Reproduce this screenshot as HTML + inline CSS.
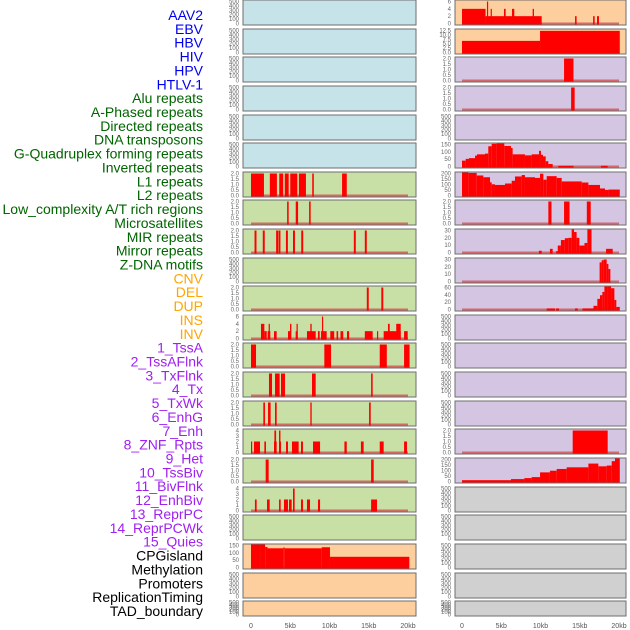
<!DOCTYPE html>
<html><head><meta charset="utf-8"><style>
body{margin:0;background:#fff;width:630px;height:630px;overflow:hidden}
svg{display:block}
</style></head><body>
<svg id="chart" width="630" height="630" xmlns="http://www.w3.org/2000/svg" font-family="Liberation Sans, sans-serif"></svg>
<script>
const trackLabels=["AAV2","EBV","HBV","HIV","HPV","HTLV-1","Alu repeats","A-Phased repeats","Directed repeats","DNA transposons","G-Quadruplex forming repeats","Inverted repeats","L1 repeats","L2 repeats","Low_complexity A/T rich regions","Microsatellites","MIR repeats","Mirror repeats","Z-DNA motifs","CNV","DEL","DUP","INS","INV","1_TssA","2_TssAFlnk","3_TxFlnk","4_Tx","5_TxWk","6_EnhG","7_Enh","8_ZNF_Rpts","9_Het","10_TssBiv","11_BivFlnk","12_EnhBiv","13_ReprPC","14_ReprPCWk","15_Quies","CPGisland","Methylation","Promoters","ReplicationTiming","TAD_boundary"];
const labelColors=["#0000ee","#0000ee","#0000ee","#0000ee","#0000ee","#0000ee","#006400","#006400","#006400","#006400","#006400","#006400","#006400","#006400","#006400","#006400","#006400","#006400","#006400","#ffa500","#ffa500","#ffa500","#ffa500","#ffa500","#a020f0","#a020f0","#a020f0","#a020f0","#a020f0","#a020f0","#a020f0","#a020f0","#a020f0","#a020f0","#a020f0","#a020f0","#a020f0","#a020f0","#a020f0","#000","#000","#000","#000","#000"];
const xTicks=[0,5,10,15,20];
const xTickLabels=["0","5kb","10kb","15kb","20kb"];
const T500=[0,100,200,300,400,500], T2=[0,0.5,1,1.5,2], T6=[0,2,4,6], T4=[0,1,2,3,4], T150=[0,50,100,150], T200=[0,50,100,150,200], T30=[0,10,20,30], T60=[0,20,40,60], T125=[0,2.5,5,7.5,10,12.5];
const leftBg=["#c6e3ea","#c6e3ea","#c6e3ea","#c6e3ea","#c6e3ea","#c6e3ea","#c8e0a5","#c8e0a5","#c8e0a5","#c8e0a5","#c8e0a5","#c8e0a5","#c8e0a5","#c8e0a5","#c8e0a5","#c8e0a5","#c8e0a5","#c8e0a5","#c8e0a5","#fecf9e","#fecf9e","#fecf9e"];
const rightBg=["#fecf9e","#fecf9e","#d4c5e2","#d4c5e2","#d4c5e2","#d4c5e2","#d4c5e2","#d4c5e2","#d4c5e2","#d4c5e2","#d4c5e2","#d4c5e2","#d4c5e2","#d4c5e2","#d4c5e2","#d4c5e2","#d4c5e2","#d0d0d0","#d0d0d0","#d0d0d0","#d0d0d0","#d0d0d0"];
const leftTicks=[T500,T500,T500,T500,T500,T500,T2,T2,T2,T500,T2,T6,T2,T2,T2,T4,T2,T4,T500,T150,T500,T500];
const rightTicks=[T6,T125,T2,T2,T500,T150,T200,T2,T30,T30,T60,T500,T500,T500,T500,T2,T200,T500,T500,T500,T500,T500];
const leftSegs=[[],[],[],[],[],[],
[[0,1.65,2],[2.4,3.3,2],[3.6,4.1,2],[4.3,4.8,2],[5.0,5.9,2],[6.1,7.0,2],[7.8,8.0,2],[11.6,12.2,2]],
[[4.6,4.8,2],[5.7,6.0,2],[7.4,7.6,2]],
[[0.45,0.7,2],[1.5,1.75,2],[3.2,3.45,2],[3.5,3.75,2],[4.45,4.7,2],[5.35,5.6,2],[6.4,6.65,2],[13.1,13.35,2],[14.5,14.75,2]],
[],
[[14.75,15.0,2],[16.6,16.85,2]],
[[1.27,1.7,4],[1.7,2.0,2],[2.12,2.46,2],[2.25,2.38,4],[2.93,3.27,2],[4.71,5.1,2],[4.97,5.14,4],[5.69,5.95,2],[5.8,5.9,4],[7.13,8.24,2],[7.56,7.73,4],[8.53,8.75,2],[8.92,9.64,2],[9.04,9.17,6],[10.1,10.6,2],[10.9,11.1,2],[11.4,11.75,2],[12.23,12.5,2],[14.5,15.5,2],[16.05,16.2,2],[16.9,19.07,2],[17.45,17.67,4],[18.5,19.07,4],[19.5,19.96,2]],
[[0,0.64,2],[9.34,10.2,2],[16.4,17.3,2],[19.5,20.2,2]],
[[2.29,2.68,2],[3.06,3.65,2],[3.82,4.33,2],[7.77,8.24,2],[15.3,15.5,2]],
[[1.57,1.78,2],[2.17,2.5,2],[3.06,3.27,2],[7.56,7.73,2],[15.04,15.25,2]],
[[0,0.12,2],[0.38,1.15,2],[1.7,1.91,2],[2.93,3.27,2],[2.98,3.2,4],[3.57,3.82,2],[3.57,3.75,4],[4.46,4.71,2],[5.22,6.07,2],[6.37,6.62,2],[7.9,8.8,2],[11.9,12.2,2],[14.0,14.35,2],[16.4,16.9,2],[19.5,19.87,2]],
[[1.87,2.25,2],[15.3,15.63,2]],
[[0.5,0.72,2],[2.04,2.38,2],[3.57,3.78,2],[4.2,4.71,2],[4.84,5.18,2],[5.35,5.56,4],[6.37,6.62,2],[7.13,7.52,2],[8.53,8.8,2],[15.3,16.05,2]],
[],
[[0,1.15,172],[1.15,1.8,162],[1.8,2.1,140],[2.1,4.1,131],[4.1,4.3,136],[4.3,9.0,131],[9.0,10.06,138],[10.06,20.17,73]],
[],[]];
const rightSegs=[
[[0,3.0,4],[3.0,10.15,2],[3.18,3.3,6],[3.65,3.78,4],[5.35,5.56,4],[6.37,6.66,4],[9.0,9.17,4],[14.4,14.6,2],[16.7,16.9,2],[17.2,17.45,2]],
[[0,9.94,6.6],[9.94,20.1,12.3]],
[[13.0,14.2,2]],
[[13.9,14.35,2]],
[],
[[0,0.47,40],[0.47,0.89,52],[0.89,1.66,57],[1.66,1.91,74],[1.91,2.93,83],[2.93,3.35,88],[3.35,3.78,138],[3.78,4.41,155],[4.41,5.39,164],[5.39,6.24,140],[6.24,6.45,126],[6.45,8.02,83],[8.02,8.87,76],[8.87,9.81,83],[9.81,10.06,107],[10.06,10.32,80],[10.32,10.66,69],[10.66,11.0,36],[11.0,11.55,17],[12.27,14.2,5],[17.7,18.56,5]],
[[0,0.81,224],[0.81,1.87,205],[1.87,2.72,182],[2.72,3.57,166],[3.57,3.78,120],[3.78,4.2,102],[4.2,5.48,96],[5.48,6.33,109],[6.33,6.75,134],[6.75,7.6,173],[7.6,8.02,186],[8.02,9.3,166],[9.3,9.94,160],[9.94,10.36,198],[10.36,10.79,144],[10.79,12.06,176],[12.06,12.7,160],[12.7,15.25,128],[15.25,16.1,118],[16.1,17.58,96],[17.58,18.22,64],[18.22,18.65,51],[18.65,20.1,54]],
[[11.0,11.4,2],[13.0,13.7,2],[15.9,16.4,2]],
[[9.8,10.15,2.4],[11.2,11.55,5],[12.0,12.2,2],[12.2,12.6,9.5],[12.6,13.1,17],[13.1,13.55,19.5],[13.55,13.97,20],[13.97,14.27,33],[14.27,14.6,28],[14.6,14.95,20],[14.95,15.6,9.5],[15.6,15.97,13],[15.97,16.5,33],[18.35,19.2,5]],
[[17.53,17.79,26],[17.79,18.05,29],[18.05,18.43,30],[18.43,18.65,24],[18.65,18.9,17]],
[[10.79,11.85,3],[11.98,12.36,3],[14.4,14.75,3],[15.35,16.75,3],[16.75,17.24,10],[17.24,17.58,29],[17.58,17.88,39],[17.88,18.14,48],[18.14,18.48,63],[18.48,18.99,68],[18.99,19.41,58],[19.41,19.66,26],[19.66,20.1,7]],
[],[],[],[],
[[14.1,18.56,2]],
[[0,6.24,12],[6.24,7.94,22],[7.94,8.87,31],[8.87,9.94,40],[9.94,11.2,83],[11.2,12.06,98],[12.06,13.33,114],[13.33,16.1,129],[16.1,17.37,163],[17.37,18.43,138],[18.43,19.07,145],[19.07,19.49,185],[19.49,20.1,215]],
[],[],[],[],[]];

const svg=document.getElementById('chart');
const NS='http://www.w3.org/2000/svg';
function mk(tag,attrs,parent){const e=document.createElementNS(NS,tag);for(const k in attrs)e.setAttribute(k,attrs[k]);(parent||svg).appendChild(e);return e;}
const rowTops=[0,29,57,86,115,143,172,200,229,258,286,315,343,372,401,429,458,487,515,544,573,601];
function rowH(i){return i===21?15:25;}
const cols=[{px:243,pw:173,x0:251,segs:leftSegs,ticks:leftTicks,bg:leftBg,name:'left'},{px:455,pw:171,x0:462,segs:rightSegs,ticks:rightTicks,bg:rightBg,name:'right'}];
const kbW=157/20;
function xScale(c,kb){return c.x0+Math.min(Math.max(kb,0),20.2)*kbW;}
// labels
trackLabels.forEach((t,i)=>{
  const e=mk('text',{x:203,y:15+i*13.86+5,'text-anchor':'end','font-size':'14',fill:labelColors[i]});
  e.textContent=t;
  
  
});
cols.forEach(c=>{
  rowTops.forEach((top,i)=>{
    const h=rowH(i);
    const g=mk('g',{});
    
    
    mk('rect',{x:c.px,y:top,width:c.pw,height:h,fill:c.bg[i],stroke:'#6e6e6e','stroke-width':1},g);
    const ticks=c.ticks[i];const tmax=ticks[ticks.length-1];
    const y0=top+h-1.5, y1=top+1.5;
    const ys=v=>y0-(v/tmax)*(y0-y1);
    const segs=c.segs[i];
    if(segs.length){
      const bl=mk('line',{x1:xScale(c,0),x2:xScale(c,20),y1:top+h-1.5,y2:top+h-1.5,stroke:'#d25050','stroke-width':2,'stroke-opacity':0.8},g);
      
      
    }
    segs.forEach(s=>{
      const xa=xScale(c,s[0]),xb=xScale(c,s[1]);
      const yt=Math.max(ys(s[2]),top+0.5);
      const r=mk('rect',{x:xa,y:yt,width:Math.max(xb-xa,1.2),height:top+h-0.5-yt,fill:'#ff0000'},g);
      
      
    });
    ticks.forEach(v=>{
      const lab=(tmax<=2.5&&tmax>1)?v.toFixed(1):(tmax===12.5?(v%1?v.toFixed(1):v.toFixed(1)):String(v));
      const e=mk('text',{x:c.px-4,y:ys(v)+2,'text-anchor':'end','font-size':'6',fill:'#666'},g);
      e.textContent=lab;
      
      
    });
  });
  xTicks.forEach((v,j)=>{
    const e=mk('text',{x:xScale(c,v),y:628,'text-anchor':'middle','font-size':'7',fill:'#555'});
    e.textContent=xTickLabels[j];
    
    
  });
});
</script>
</body></html>
